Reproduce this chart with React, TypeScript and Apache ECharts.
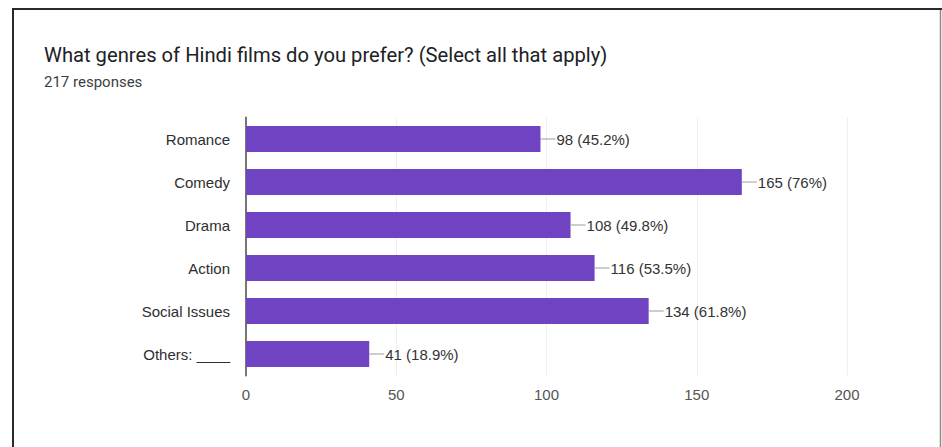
import React, { useEffect, useRef } from "react";
import * as echarts from "echarts";

const categories = ["Romance", "Comedy", "Drama", "Action", "Social Issues", "Others: ____"];
const counts = [98, 165, 108, 116, 134, 41];
const percents = ["45.2%", "76%", "49.8%", "53.5%", "61.8%", "18.9%"];
const xTicks = [0, 50, 100, 150, 200];
const titleText = "What genres of Hindi films do you prefer? (Select all that apply)";
const subtitleText = "217 responses";

export default function App() {
  const ref = useRef<HTMLDivElement>(null);
  useEffect(() => {
    if (!ref.current) return;
    const chart = echarts.init(ref.current, null, { renderer: "svg" });
    chart.setOption({
      animation: false,
      backgroundColor: "#ffffff",
      title: [
        {
          text: titleText,
          left: 44,
          top: 45,
          padding: 0,
          textStyle: { fontFamily: "Roboto", fontSize: 20.2, fontWeight: "normal", color: "#202124" },
        },
        {
          text: subtitleText,
          left: 44,
          top: 74,
          padding: 0,
          textStyle: { fontFamily: "Roboto", fontSize: 15, fontWeight: "normal", color: "#3c4043" },
        },
      ],
      graphic: [
        { type: "line", shape: { x1: 13, y1: 9, x2: 13, y2: 447 }, style: { stroke: "#2a2a2a", lineWidth: 2 } },
        { type: "line", shape: { x1: 12, y1: 9, x2: 942, y2: 9 }, style: { stroke: "#2a2a2a", lineWidth: 2 } },
        { type: "line", shape: { x1: 940.5, y1: 10, x2: 940.5, y2: 447 }, style: { stroke: "#8a8a8a", lineWidth: 1.5 } },
      ],
      grid: { left: 246, right: 95, top: 117.5, bottom: 71.5, containLabel: false },
      xAxis: {
        type: "value",
        min: xTicks[0],
        max: xTicks[xTicks.length - 1],
        interval: 50,
        axisLine: { show: false },
        axisTick: { show: false },
        splitLine: { show: true, lineStyle: { color: "#efefef", width: 1 } },
        axisLabel: {
          color: "#555555",
          fontFamily: "Liberation Sans, Arial",
          fontSize: 15,
          margin: 11,
        },
      },
      yAxis: {
        type: "category",
        data: categories,
        inverse: true,
        axisLine: { show: true, lineStyle: { color: "#777777", width: 2 } },
        axisTick: { show: false },
        axisLabel: {
          color: "#2e2e2e",
          fontFamily: "Liberation Sans, Arial",
          fontSize: 15,
          margin: 16,
        },
      },
      series: [
        {
          type: "bar",
          data: counts,
          barWidth: 26,
          itemStyle: { color: "#7043c3" },
          label: {
            show: true,
            position: "right",
            distance: 0,
            formatter: (p: any) => `{l|}{v|${counts[p.dataIndex]} (${percents[p.dataIndex]})}`,
            rich: {
              l: { width: 15, height: 1, backgroundColor: "#9a9a9a" },
              v: {
                color: "#333333",
                fontFamily: "Liberation Sans, Arial",
                fontSize: 15,
                padding: [0, 0, 0, 1],
              },
            },
          },
        },
      ],
    });
    return () => chart.dispose();
  }, []);
  return (
    <div
      ref={ref}
      style={{ position: "fixed", left: 0, top: 0, width: 942, height: 447 }}
    />
  );
}
